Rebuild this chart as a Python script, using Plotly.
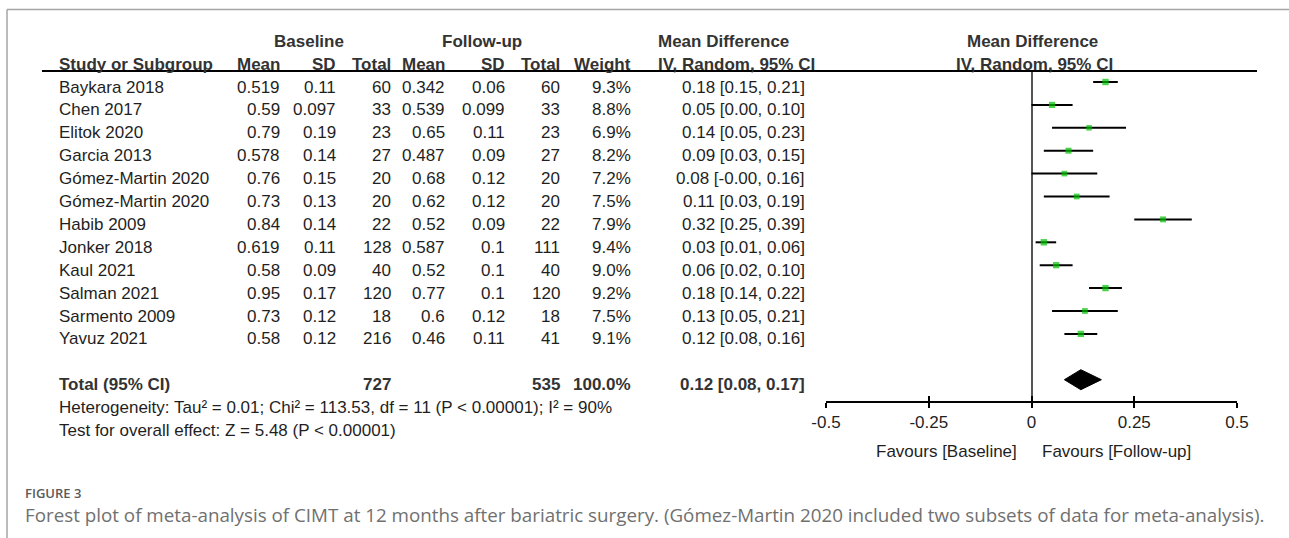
import plotly.graph_objects as go

# ---- study data -------------------------------------------------------
studies = ["Baykara 2018", "Chen 2017", "Elitok 2020", "Garcia 2013",
           "Gómez-Martin 2020", "Gómez-Martin 2020", "Habib 2009",
           "Jonker 2018", "Kaul 2021", "Salman 2021", "Sarmento 2009",
           "Yavuz 2021"]
base_mean = [0.519, 0.59, 0.79, 0.578, 0.76, 0.73, 0.84, 0.619, 0.58, 0.95, 0.73, 0.58]
base_sd = [0.11, 0.097, 0.19, 0.14, 0.15, 0.13, 0.14, 0.11, 0.09, 0.17, 0.12, 0.12]
base_n = [60, 33, 23, 27, 20, 20, 22, 128, 40, 120, 18, 216]
fu_mean = [0.342, 0.539, 0.65, 0.487, 0.68, 0.62, 0.52, 0.587, 0.52, 0.77, 0.6, 0.46]
fu_sd = [0.06, 0.099, 0.11, 0.09, 0.12, 0.12, 0.09, 0.1, 0.1, 0.1, 0.12, 0.11]
fu_n = [60, 33, 23, 27, 20, 20, 22, 111, 40, 120, 18, 41]
weight = [9.3, 8.8, 6.9, 8.2, 7.2, 7.5, 7.9, 9.4, 9.0, 9.2, 7.5, 9.1]
md = [0.18, 0.05, 0.14, 0.09, 0.08, 0.11, 0.32, 0.03, 0.06, 0.18, 0.13, 0.12]
ci_lo = [0.15, 0.00, 0.05, 0.03, -0.00, 0.03, 0.25, 0.01, 0.02, 0.14, 0.05, 0.08]
ci_hi = [0.21, 0.10, 0.23, 0.15, 0.16, 0.19, 0.39, 0.06, 0.10, 0.22, 0.21, 0.16]

total_base_n = 727
total_fu_n = 535
total_weight = 100.0
pooled_md, pooled_lo, pooled_hi = 0.12, 0.08, 0.17

heterogeneity = "Heterogeneity: Tau² = 0.01; Chi² = 113.53, df = 11 (P < 0.00001); I² = 90%"
overall_test = "Test for overall effect: Z = 5.48 (P < 0.00001)"

tick_vals = [-0.5, -0.25, 0, 0.25, 0.5]
tick_text = ["-0.5", "-0.25", "0", "0.25", "0.5"]

caption_label = "FIGURE 3"
caption_text = ("Forest plot of meta-analysis of CIMT at 12 months after bariatric surgery. "
                "(Gómez-Martin 2020 included two subsets of data for meta-analysis).")

# ---- page geometry (pixels) --------------------------------------------
W, H = 1289, 538
ROW0, ROW_H = 82.0, 22.9          # centre of first study row, row pitch
PLOT_TOP, PLOT_BOT = 71.0, 401.0  # header rule and forest axis line
X_LEFT, X_RIGHT = 826.0, 1237.0   # forest axis extent
TEXT_DROP = -5                    # table text sits a little below the marks

FONT = "Liberation Sans, Arial, sans-serif"
FS = 17
INK = "#1f1f1f"
HEAD = "#333333"


def row_of(px):
    return (px - ROW0) / ROW_H


n = len(studies)
rows = list(range(n))
total_row = n + 1

fig = go.Figure()

# confidence intervals
ci_x, ci_y = [], []
for r, lo, hi in zip(rows, ci_lo, ci_hi):
    ci_x += [lo, hi, None]
    ci_y += [r, r, None]
fig.add_trace(go.Scatter(x=ci_x, y=ci_y, mode="lines",
                         line=dict(color="black", width=2),
                         hoverinfo="skip", showlegend=False))

# study estimates, square size follows weight
fig.add_trace(go.Scatter(x=md, y=rows, mode="markers",
                         marker=dict(symbol="square", color="#00c000",
                                     size=[2.1 * w ** 0.5 for w in weight],
                                     line=dict(width=0)),
                         showlegend=False))

# pooled estimate diamond
half = 10.0 / ROW_H
fig.add_trace(go.Scatter(x=[pooled_lo, pooled_md, pooled_hi, pooled_md, pooled_lo],
                         y=[total_row, total_row - half, total_row, total_row + half, total_row],
                         mode="lines", fill="toself", fillcolor="black",
                         line=dict(color="black", width=1),
                         hoverinfo="skip", showlegend=False))

# invisible anchor for the full-page table axes
fig.add_trace(go.Scatter(x=[0], y=[0], xaxis="x2", yaxis="y2", mode="markers",
                         marker=dict(opacity=0), hoverinfo="skip", showlegend=False))

ann = []


def txt(x, row, s, anchor="right", bold=False, color=INK, size=FS):
    ann.append(dict(x=x, y=row, xref="x2", yref="y2", text=f"<b>{s}</b>" if bold else s,
                    xanchor=anchor, yanchor="middle", yshift=TEXT_DROP, showarrow=False,
                    font=dict(family=FONT, size=size, color=color)))


# column right edges
c_bm, c_bsd, c_bn, c_fm, c_fsd, c_fn, c_w, c_ci = 281.7, 338.3, 393.3, 446.7, 506.7, 561.7, 632.7, 806.7
c_name = 56.5
c_md_head = 655.5

# headers
hdr1, hdr2 = -2, -1
txt(309, hdr1, "Baseline", "center", True, HEAD)
txt(481.5, hdr1, "Follow-up", "center", True, HEAD)
txt(c_md_head, hdr1, "Mean Difference", "left", True, HEAD)
txt(1032, hdr1, "Mean Difference", "center", True, HEAD)
txt(c_name, hdr2, "Study or Subgroup", "left", True, HEAD)
for x, s in [(c_bm, "Mean"), (c_bsd, "SD"), (c_bn, "Total"), (c_fm, "Mean"),
             (c_fsd, "SD"), (c_fn, "Total"), (c_w, "Weight")]:
    txt(x, hdr2, s, "right", True, HEAD)
txt(c_md_head, hdr2, "IV, Random, 95% CI", "left", True, HEAD)
txt(1034, hdr2, "IV, Random, 95% CI", "center", True, HEAD)

# study rows
for i in rows:
    txt(c_name, i, studies[i], "left")
    txt(c_bm, i, str(base_mean[i]))
    txt(c_bsd, i, str(base_sd[i]))
    txt(c_bn, i, str(base_n[i]))
    txt(c_fm, i, str(fu_mean[i]))
    txt(c_fsd, i, str(fu_sd[i]))
    txt(c_fn, i, str(fu_n[i]))
    txt(c_w, i, f"{weight[i]:.1f}%")
    txt(c_ci, i, f"{md[i]:.2f} [{ci_lo[i]:.2f}, {ci_hi[i]:.2f}]")

# totals
txt(c_name, total_row, "Total (95% CI)", "left", True, HEAD)
txt(c_bn, total_row, str(total_base_n), "right", True, HEAD)
txt(c_fn, total_row, str(total_fu_n), "right", True, HEAD)
txt(c_w, total_row, f"{total_weight:.1f}%", "right", True, HEAD)
txt(c_ci, total_row, f"{pooled_md:.2f} [{pooled_lo:.2f}, {pooled_hi:.2f}]", "right", True, HEAD)
txt(c_name, total_row + 1, heterogeneity, "left")
txt(c_name, total_row + 2, overall_test, "left")

# favours labels under the axis
txt(1019, row_of(441) - TEXT_DROP / ROW_H, "Favours [Baseline]", "right")
txt(1040, row_of(441) - TEXT_DROP / ROW_H, "Favours [Follow-up]", "left")

# caption
ann.append(dict(x=23, y=1 - 493 / H, xref="x2", yref="paper", text=caption_label,
                xanchor="left", yanchor="middle", showarrow=False,
                font=dict(family="Open Sans, sans-serif", size=13, color="#5a5a5a", weight=600)))
ann.append(dict(x=23, y=1 - 514.5 / H, xref="x2", yref="paper", text=caption_text,
                xanchor="left", yanchor="middle", showarrow=False,
                font=dict(family="Open Sans, sans-serif", size=18.8, color="#707070")))

shapes = [
    # header rule
    dict(type="line", xref="x2", yref="paper", x0=42, x1=1257,
         y0=1 - PLOT_TOP / H, y1=1 - PLOT_TOP / H, line=dict(color="black", width=2)),
    # frame: top and left edges
    dict(type="line", xref="paper", yref="paper", x0=7 / W, x1=1,
         y0=1 - 9.5 / H, y1=1 - 9.5 / H, line=dict(color="#a5a5a5", width=1.5)),
    dict(type="line", xref="paper", yref="paper", x0=7 / W, x1=7 / W,
         y0=0, y1=1 - 9.5 / H, line=dict(color="#a5a5a5", width=1.5)),
]

dom_x = [X_LEFT / W, X_RIGHT / W]
dom_y = [1 - PLOT_BOT / H, 1 - PLOT_TOP / H]

fig.update_layout(
    width=W, height=H, autosize=False, margin=dict(l=0, r=0, t=0, b=0, pad=0),
    paper_bgcolor="white", plot_bgcolor="rgba(0,0,0,0)",
    font=dict(family=FONT, size=FS, color=INK),
    xaxis=dict(domain=dom_x, range=[-0.5, 0.5], tickvals=tick_vals, ticktext=tick_text,
               ticks="outside", ticklen=5, tickwidth=1.5, tickcolor="black",
               showline=True, linecolor="black", linewidth=1.5,
               showgrid=False, zeroline=True, zerolinecolor="#555", zerolinewidth=2,
               tickfont=dict(family=FONT, size=FS, color=INK), anchor="y",
               automargin=False, fixedrange=True),
    xaxis3=dict(domain=dom_x, range=[-0.5, 0.5], tickvals=tick_vals, overlaying="x",
                ticks="inside", ticklen=5, tickwidth=1.5, tickcolor="black",
                showticklabels=False, showline=False, showgrid=False, zeroline=False,
                anchor="y", automargin=False, fixedrange=True),
    yaxis=dict(domain=dom_y, range=[row_of(PLOT_BOT), row_of(PLOT_TOP)], visible=False,
               automargin=False, fixedrange=True),
    xaxis2=dict(domain=[0, 1], range=[0, W], visible=False, anchor="y2",
                automargin=False, fixedrange=True),
    yaxis2=dict(domain=[0, 1], range=[row_of(H), row_of(0)], visible=False, anchor="x2",
                automargin=False, fixedrange=True),
    annotations=ann, shapes=shapes,
)

# empty trace so the upward tick axis is rendered
fig.add_trace(go.Scatter(x=[None], y=[None], xaxis="x3", yaxis="y", showlegend=False))

fig.write_html("out.html", config={"responsive": False, "displayModeBar": False})
